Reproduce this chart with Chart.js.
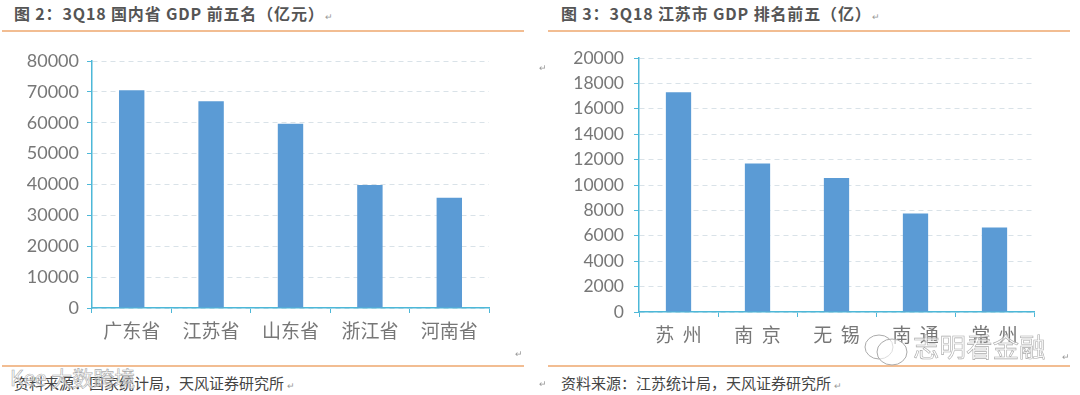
<!DOCTYPE html>
<html>
<head>
<meta charset="utf-8">
<script src="https://cdn.jsdelivr.net/npm/chart.js@4/dist/chart.umd.min.js"></script>
<style>
body { margin: 0; background: #fff; width: 1080px; height: 395px; overflow: hidden; position: relative; font-family: "Noto Sans CJK SC", sans-serif; }
canvas { position: absolute; }
svg { position: absolute; }
.txt { position: absolute; white-space: pre; line-height: 1; }
.title { font-weight: 700; font-size: 16px; letter-spacing: .85px; color: #555; top: 5px; }
.src { font-size: 15px; color: #444; top: 375px; }
.rule { position: absolute; height: 2px; background: #f2bd92; }
.mark { color: #999; font-size: 9px; font-weight: 400; }
.wm { color: rgba(255,255,255,.6); -webkit-text-stroke: .6px #aaa; }
</style>
</head>
<body>
<div class="txt title" style="left:14px">图 2：3Q18 国内省 GDP 前五名（亿元）<span class="mark">↵</span></div>
<div class="txt title" style="left:561px">图 3：3Q18 江苏市 GDP 排名前五（亿）<span class="mark">↵</span></div>
<div class="rule" style="left:2px;top:30px;width:522px"></div>
<div class="rule" style="left:548px;top:30px;width:522px"></div>
<div class="rule" style="left:2px;top:365px;width:522px"></div>
<div class="rule" style="left:548px;top:365px;width:522px"></div>
<canvas id="graficoProvincias" style="left:0;top:40px" width="540" height="320"></canvas>
<canvas id="graficoCiudades" style="left:540px;top:37px" width="540" height="320"></canvas>
<div class="txt src" style="left:14px">资料来源：国家统计局，天风证券研究所 <span class="mark">↵</span></div>
<div class="txt src" style="left:561px">资料来源：江苏统计局，天风证券研究所 <span class="mark">↵</span></div>
<div class="txt wm" style="left:10px;top:367px;font-size:21px">Kee 大数跨境</div>
<svg style="left:862px;top:332px" width="50" height="38" fill="rgba(255,255,255,.6)" stroke="#aaa" stroke-width="1">
  <ellipse cx="17" cy="15" rx="14" ry="12"/>
  <ellipse cx="30" cy="20" rx="15" ry="13"/>
</svg>
<div class="txt wm" style="left:913px;top:333px;font-size:26.5px">志明看金融</div>
<div class="txt mark" style="left:515px;top:349px">↵</div>
<div class="txt mark" style="left:1062px;top:352px">↵</div>
<div class="txt mark" style="left:539px;top:63px">↵</div>
<div class="txt mark" style="left:539px;top:379px">↵</div>
<script>
// datos
var provincias = ['广东省', '江苏省', '山东省', '浙江省', '河南省'];
var gdpProvincias = [70500, 67000, 59700, 39800, 35700];
var ciudades = ['苏  州', '南  京', '无  锡', '南  通', '常  州'];
var gdpCiudades = [17300, 11700, 10550, 7750, 6650];

var azul = '#5b9bd5';
var cian = '#4db8d8';

function crearGrafico(id, labels, valores, maxY, paso, izq, der, abajo, tamTick, sepTick) {
  var ctx = document.getElementById(id).getContext('2d');
  return new Chart(ctx, {
    type: 'bar',
    data: {
      labels: labels,
      datasets: [{ data: valores, backgroundColor: azul, barPercentage: 0.32, categoryPercentage: 1 }]
    },
    options: {
      responsive: false,
      animation: false,
      layout: { padding: { top: 21, right: der, bottom: 0, left: 0 } },
      plugins: { legend: { display: false }, tooltip: { enabled: false } },
      scales: {
        x: {
          afterFit: function (s) { s.height = abajo; },
          grid: { drawOnChartArea: false, tickLength: 5, tickColor: cian, offset: true },
          border: { color: cian, width: 1.5 },
          ticks: { color: '#777', padding: 6, font: { family: '"Noto Sans CJK SC"', size: 19 }, maxRotation: 0 }
        },
        y: {
          min: 0, max: maxY,
          afterFit: function (s) { s.width = izq; },
          grid: { color: '#d9e2e8', tickColor: cian, tickLength: 5, tickBorderDash: [1, 0] },
          border: { color: cian, width: 1.5, dash: [5, 4] },
          ticks: {
            stepSize: paso, autoSkip: false, color: '#777', padding: sepTick,
            font: { family: 'Lato', size: tamTick },
            callback: function (v) { return String(v); }
          }
        }
      }
    }
  });
}

crearGrafico('graficoProvincias', provincias, gdpProvincias, 80000, 10000, 92, 51, 52, 18, 8);
crearGrafico('graficoCiudades', ciudades, gdpCiudades, 20000, 2000, 99, 46, 45, 17.5, 10);
</script>
</body>
</html>
